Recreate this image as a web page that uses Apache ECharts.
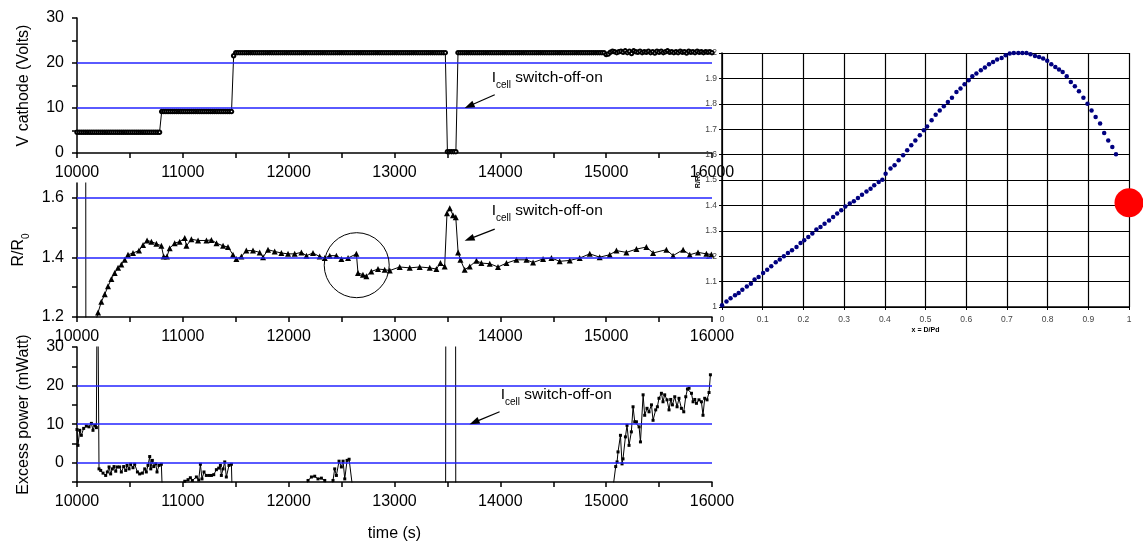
<!DOCTYPE html>
<html>
<head>
<meta charset="utf-8">
<script src="https://cdn.jsdelivr.net/npm/echarts@6/dist/echarts.min.js"></script>
<style>
  html, body { margin: 0; padding: 0; background: #fff; }
  #chart { width: 1143px; height: 549px; }
</style>
</head>
<body>
<div id="chart"></div>
<script>
// ---- data ----
const timeTicks = [10000, 10500, 11000, 11500, 12000, 12500, 13000, 13500, 14000, 14500, 15000, 15500, 16000];
const timeLabels = [10000, 11000, 12000, 13000, 14000, 15000, 16000];

// V cathode, logged every 20 s from 10000 s
const vStart = 10000;
const vStep = 20;
const vCathode = [
  4.6,4.6,4.6,4.6,4.6,4.6,4.6,4.6,4.6,4.6,4.6,4.6,4.6,4.6,4.6,4.6,4.6,4.6,4.6,4.6,
  4.6,4.6,4.6,4.6,4.6,4.6,4.6,4.6,4.6,4.6,4.6,4.6,4.6,4.6,4.6,4.6,4.6,4.6,4.6,4.6,
  9.2,9.2,9.2,9.2,9.2,9.2,9.2,9.2,9.2,9.2,9.2,9.2,9.2,9.2,9.2,9.2,9.2,9.2,9.2,9.2,
  9.2,9.2,9.2,9.2,9.2,9.2,9.2,9.2,9.2,9.2,9.2,9.2,9.2,9.2,21.6,22.3,22.3,22.3,22.3,22.3,
  22.3,22.3,22.3,22.3,22.3,22.3,22.3,22.3,22.3,22.3,22.3,22.3,22.3,22.3,22.3,22.3,22.3,22.3,22.3,22.3,
  22.3,22.3,22.3,22.3,22.3,22.3,22.3,22.3,22.3,22.3,22.3,22.3,22.3,22.3,22.3,22.3,22.3,22.3,22.3,22.3,
  22.3,22.3,22.3,22.3,22.3,22.3,22.3,22.3,22.3,22.3,22.3,22.3,22.3,22.3,22.3,22.3,22.3,22.3,22.3,22.3,
  22.3,22.3,22.3,22.3,22.3,22.3,22.3,22.3,22.3,22.3,22.3,22.3,22.3,22.3,22.3,22.3,22.3,22.3,22.3,22.3,
  22.3,22.3,22.3,22.3,22.3,22.3,22.3,22.3,22.3,22.3,22.3,22.3,22.3,22.3,22.3,0.3,0.3,0.3,0.3,0.3,
  22.3,22.3,22.3,22.3,22.3,22.3,22.3,22.3,22.3,22.3,22.3,22.3,22.3,22.3,22.3,22.3,22.3,22.3,22.3,22.3,
  22.3,22.3,22.3,22.3,22.3,22.3,22.3,22.3,22.3,22.3,22.3,22.3,22.3,22.3,22.3,22.3,22.3,22.3,22.3,22.3,
  22.3,22.3,22.3,22.3,22.3,22.3,22.3,22.3,22.3,22.3,22.3,22.3,22.3,22.3,22.3,22.3,22.3,22.3,22.3,22.3,
  22.3,22.3,22.3,22.3,22.3,22.3,22.3,22.3,22.3,22.3,
  21.9,22.0,22.4,22.6,22.5,22.3,22.5,22.6,22.4,22.7,
  22.3,22.6,22.1,22.7,22.5,22.4,22.6,22.3,22.5,22.4,
  22.6,22.3,22.5,22.2,22.6,22.4,22.6,22.3,22.5,22.7,
  22.4,22.5,22.3,22.5,22.3,22.6,22.4,22.5,22.2,22.6,
  22.4,22.5,22.3,22.6,22.4,22.5,22.3,22.5,22.4,22.5,
  22.3
];
const vTicks = [0, 5, 10, 15, 20, 25, 30];
const vLabels = [0, 10, 20, 30];
const vGuides = [10, 20];

// R/R0
const rTime = [
  10082, 10084, 10199, 10230, 10262, 10293, 10325, 10356, 10388, 10419, 10451, 10482, 10529, 10586, 10624,
  10662, 10703, 10750, 10797, 10819, 10850, 10876, 10923, 10970, 11018, 11034, 11081, 11144, 11223, 11270,
  11318, 11380, 11427, 11474, 11506, 11553, 11600, 11663, 11726, 11758, 11805, 11868, 11931, 11994, 12057,
  12120, 12168, 12230, 12293, 12341, 12388, 12451, 12498, 12561, 12640, 12655, 12702, 12734, 12781, 12844,
  12907, 12955, 13049, 13144, 13238, 13333, 13396, 13434, 13474, 13496, 13522, 13553, 13579, 13601, 13623,
  13663, 13711, 13774, 13821, 13900, 13978, 14058, 14152, 14247, 14309, 14404, 14483, 14561, 14656, 14750,
  14845, 14939, 15034, 15097, 15191, 15286, 15380, 15443, 15569, 15632, 15727, 15790, 15868, 15947, 15994
];
const rValue = [
  2.0, 1.05, 1.215, 1.251, 1.276, 1.303, 1.328, 1.348, 1.365, 1.376, 1.392, 1.409, 1.415, 1.423, 1.442,
  1.457, 1.453, 1.446, 1.439, 1.403, 1.403, 1.431, 1.448, 1.453, 1.465, 1.439, 1.461, 1.457, 1.457, 1.459,
  1.448, 1.439, 1.435, 1.409, 1.395, 1.403, 1.423, 1.423, 1.417, 1.401, 1.426, 1.420, 1.415, 1.412, 1.412,
  1.417, 1.406, 1.415, 1.403, 1.398, 1.406, 1.406, 1.395, 1.398, 1.412, 1.348, 1.342, 1.337, 1.353, 1.361,
  1.359, 1.356, 1.368, 1.365, 1.368, 1.365, 1.361, 1.381, 1.370, 1.548, 1.565, 1.542, 1.535, 1.417, 1.392,
  1.359, 1.370, 1.389, 1.381, 1.379, 1.368, 1.381, 1.392, 1.392, 1.383, 1.395, 1.398, 1.387, 1.390, 1.398,
  1.412, 1.401, 1.409, 1.423, 1.417, 1.428, 1.435, 1.415, 1.426, 1.406, 1.426, 1.409, 1.417, 1.412, 1.410
];
const rTicks = [1.2, 1.3, 1.4, 1.5, 1.6];
const rLabels = [1.2, 1.4, 1.6];
const rGuides = [1.4, 1.6];

// Excess power
const pTime = [
  10000, 10009, 10026, 10041, 10063, 10088, 10113, 10136, 10151, 10167, 10183, 10193,
  10208, 10224, 10246, 10271, 10287, 10303, 10318, 10334, 10350, 10366, 10381, 10403, 10419, 10441,
  10460, 10473, 10492, 10507, 10529, 10545, 10571, 10592, 10618, 10640, 10655, 10671, 10687, 10697,
  10712, 10725, 10744, 10756, 10775, 10797, 10812, 10900, 10990,
  11018, 11049, 11071, 11090, 11128, 11150, 11166, 11181, 11200, 11222, 11247, 11270, 11292, 11317,
  11339, 11355, 11364, 11380, 11396, 11411, 11436, 11459, 11470, 11800, 12160,
  12183, 12215, 12246, 12277, 12309, 12341, 12360, 12400,
  12419, 12435, 12451, 12476, 12498, 12514, 12530, 12552, 12571, 12602, 12700, 13100,
  13482, 13486, 13576, 13580, 14000, 14600, 15050,
  15071, 15090, 15103, 15112, 15135, 15150, 15159, 15182, 15197, 15216, 15238, 15254, 15270, 15286,
  15311, 15324, 15349, 15364, 15386, 15405, 15428, 15443, 15468, 15484, 15499, 15522, 15537, 15553,
  15575, 15594, 15610, 15626, 15648, 15670, 15688, 15711, 15733, 15752, 15768, 15783, 15806, 15821,
  15837, 15853, 15877, 15900, 15915, 15931, 15953, 15972, 15985
];
const pValue = [
  8.6, 4.5, 8.4, 7.1, 8.9, 9.5, 9.3, 10.2, 8.4, 9.7, 9.1, 60,
  -1.6, -2.0, -2.7, -3.3, -2.4, -1.1, -2.9, -1.6, -1.0, -2.2, -1.1, -1.1, -2.4, -1.0,
  -2.0, -0.7, -1.6, -0.4, -1.3, -0.4, -2.4, -2.9, -2.7, -1.6, -2.4, -0.7, 1.6, -1.6,
  0.6, -1.0, -0.3, -2.4, -0.7, -0.4, -12, -14, -8,
  -4.8, -4.4, -3.9, -4.6, -3.7, -4.5, -0.4, -4.2, -2.4, -3.3, -3.3, -3.3, -3.1, -1.8,
  -1.4, -0.7, -3.3, -1.6, 0.2, -3.7, -0.7, -0.4, -12, -15, -8,
  -4.6, -3.7, -3.5, -4.2, -4.0, -4.6, -8, -9,
  -4.6, -1.6, -3.3, 0.4, -1.1, 0.4, -4.2, 0.6, 0.9, -6, -12, -15,
  -40, 80, 80, -40, -20, -15, -8,
  -5.1, -1.0, 0.2, 2.8, 7.1, -0.3, 1.0, 6.7, 9.7, 4.5, 8.0, 14.5, 10.6, 10.6,
  9.3, 5.4, 17.6, 12.3, 14.1, 13.2, 15.0, 11.0, 13.7, 14.5, 16.7, 18.0, 15.8, 17.6,
  16.3, 13.7, 16.4, 15.0, 17.1, 14.5, 16.7, 14.1, 13.2, 17.1, 19.1, 19.3, 18.0, 15.8,
  16.4, 15.4, 16.3, 15.8, 12.3, 16.7, 16.3, 18.2, 22.8
];
const pTicks = [-5, 0, 5, 10, 15, 20, 25, 30];
const pLabels = [0, 10, 20, 30];
const pGuides = [0, 10, 20];

// right-hand chart: R/R0 against x = D/Pd
const dRatio = [
  0, 0.011, 0.021, 0.032, 0.041, 0.050, 0.061, 0.071, 0.080, 0.090,
  0.101, 0.111, 0.121, 0.132, 0.142, 0.152, 0.162, 0.172, 0.183, 0.193,
  0.202, 0.212, 0.222, 0.232, 0.242, 0.252, 0.263, 0.273, 0.283, 0.293,
  0.303, 0.314, 0.324, 0.334, 0.344, 0.355, 0.365, 0.374, 0.385, 0.394,
  0.402, 0.414, 0.424, 0.434, 0.445, 0.455, 0.465, 0.475, 0.486, 0.496,
  0.504, 0.515, 0.525, 0.535, 0.545, 0.555, 0.565, 0.576, 0.586, 0.596,
  0.606, 0.615, 0.625, 0.636, 0.646, 0.656, 0.666, 0.676, 0.687, 0.697,
  0.707, 0.717, 0.728, 0.738, 0.748, 0.758, 0.769, 0.779, 0.789, 0.799,
  0.809, 0.819, 0.828, 0.837, 0.847, 0.857, 0.867, 0.877, 0.888, 0.898,
  0.908, 0.918, 0.929, 0.939, 0.949, 0.959, 0.968
];
const rRatio = [
  1.007, 1.022, 1.034, 1.046, 1.055, 1.068, 1.081, 1.092, 1.108, 1.118,
  1.134, 1.147, 1.160, 1.176, 1.187, 1.200, 1.213, 1.223, 1.236, 1.252,
  1.263, 1.276, 1.289, 1.305, 1.315, 1.328, 1.341, 1.354, 1.368, 1.381,
  1.396, 1.407, 1.416, 1.429, 1.442, 1.455, 1.466, 1.479, 1.492, 1.501,
  1.525, 1.545, 1.558, 1.578, 1.597, 1.617, 1.637, 1.656, 1.676, 1.696,
  1.711, 1.735, 1.757, 1.774, 1.790, 1.807, 1.824, 1.846, 1.860, 1.877,
  1.893, 1.908, 1.919, 1.932, 1.943, 1.956, 1.965, 1.974, 1.980, 1.991,
  1.998, 2.0, 2.0, 2.0, 2.0, 1.995, 1.988, 1.984, 1.978, 1.969,
  1.956, 1.945, 1.935, 1.925, 1.908, 1.886, 1.869, 1.849, 1.824, 1.800,
  1.774, 1.748, 1.722, 1.685, 1.656, 1.630, 1.601
];
const markerX = [1.0];
const markerY = [1.41];

// annotations, in data coordinates of each panel
const notes = [
  { grid: 0, text: [13918, 16.2], tail: [13947, 12.95], tip: [13663, 10.0] },
  { grid: 1, text: [13918, 1.549], tail: [13947, 1.495], tip: [13663, 1.456] },
  { grid: 2, text: [14004, 17.0], tail: [13993, 13.2], tip: [13710, 10.0] }
];
const ring = { grid: 1, center: [12643, 1.374], radius: 32.5 };

// ---- chart ----
const FONT = '"Liberation Sans", Arial, sans-serif';
const BLUE = '#2323ff';

const chart = echarts.init(document.getElementById('chart'));

const timeAxis = (gi, extra) => Object.assign({
  type: 'value', gridIndex: gi, min: 10000, max: 16000,
  axisLine: { show: true, onZero: false, lineStyle: { color: '#000', width: 1.5 } },
  axisTick: { show: true, customValues: timeTicks, length: 5, lineStyle: { color: '#000', width: 1.5 } },
  axisLabel: { customValues: timeLabels, color: '#000', fontSize: 16, fontFamily: FONT, margin: 12,
               formatter: v => String(v) },
  splitLine: { show: false }
}, extra || {});

const leftAxis = (gi, min, max, ticks, labels, name, extra) => Object.assign({
  type: 'value', gridIndex: gi, min: min, max: max,
  name: name, nameLocation: 'middle', nameGap: 45,
  nameTextStyle: { color: '#000', fontSize: 16, fontFamily: FONT },
  axisLine: { show: true, onZero: false, lineStyle: { color: '#000', width: 1.5 } },
  axisTick: { show: true, customValues: ticks, length: 5, lineStyle: { color: '#000', width: 1.5 } },
  axisLabel: { customValues: labels, color: '#000', fontSize: 16, fontFamily: FONT, margin: 13,
               formatter: v => String(v) },
  splitLine: { show: false }
}, extra || {});

const guideLines = (vals) => ({
  silent: true, symbol: 'none', animation: false,
  label: { show: false },
  lineStyle: { color: BLUE, width: 1.5, type: 'solid' },
  data: vals.map(v => ({ yAxis: v }))
});

const option = {
  animation: false,
  backgroundColor: '#fff',
  grid: [
    { left: 77, top: 18, width: 635, height: 135 },
    { left: 77, top: 183, width: 635, height: 134 },
    { left: 77, top: 347, width: 635, height: 135 },
    { left: 722, top: 53, width: 407, height: 254 }
  ],
  xAxis: [
    timeAxis(0),
    timeAxis(1),
    timeAxis(2, {
      name: 'time (s)', nameLocation: 'middle', nameGap: 44,
      nameTextStyle: { color: '#000', fontSize: 16, fontFamily: FONT }
    }),
    {
      type: 'value', gridIndex: 3, min: 0, max: 1, interval: 0.1,
      name: 'x = D/Pd', nameLocation: 'middle', nameGap: 20,
      nameTextStyle: { color: '#000', fontSize: 7, fontWeight: 'bold', fontFamily: FONT },
      axisLine: { show: true, onZero: false, lineStyle: { color: '#000', width: 1.5 } },
      axisTick: { show: true, length: 3, lineStyle: { color: '#000' } },
      axisLabel: { color: '#444', fontSize: 8.5, fontFamily: FONT, margin: 8, formatter: v => String(+v.toFixed(1)) },
      splitLine: { show: true, lineStyle: { color: '#000', width: 1.2 } }
    }
  ],
  yAxis: [
    leftAxis(0, 0, 30, vTicks, vLabels, 'V cathode (Volts)'),
    leftAxis(1, 1.2, 1.65, rTicks, rLabels, '{a|R/R}{b|0}', {
      nameTextStyle: {
        color: '#000', fontFamily: FONT,
        rich: {
          a: { fontSize: 16, fontFamily: FONT, verticalAlign: 'top', lineHeight: 20 },
          b: { fontSize: 10, fontFamily: FONT, verticalAlign: 'bottom', lineHeight: 20 }
        }
      },
      axisLabel: { customValues: rLabels, color: '#000', fontSize: 16, fontFamily: FONT, margin: 13,
                   formatter: v => v.toFixed(1) }
    }),
    leftAxis(2, -5, 30, pTicks, pLabels, 'Excess power (mWatt)'),
    {
      type: 'value', gridIndex: 3, min: 1, max: 2, interval: 0.1,
      name: 'R/Ro', nameLocation: 'middle', nameGap: 13,
      nameTextStyle: { color: '#000', fontSize: 7, fontWeight: 'bold', fontFamily: FONT },
      axisLine: { show: true, onZero: false, lineStyle: { color: '#000', width: 1.5 } },
      axisTick: { show: true, length: 3, lineStyle: { color: '#000' } },
      axisLabel: { color: '#444', fontSize: 8.5, fontFamily: FONT, margin: 5, formatter: v => String(+v.toFixed(1)) },
      splitLine: { show: true, lineStyle: { color: '#000', width: 1.2 } }
    }
  ],
  series: [
    {
      name: 'V cathode', type: 'line', xAxisIndex: 0, yAxisIndex: 0,
      data: vCathode.map((v, i) => [vStart + i * vStep, v]),
      symbol: 'emptyCircle', symbolSize: 3.5, showSymbol: true,
      lineStyle: { color: '#000', width: 1 },
      itemStyle: { color: '#000', borderWidth: 0.8 },
      markLine: guideLines(vGuides), z: 3
    },
    {
      name: 'R/R0', type: 'line', xAxisIndex: 1, yAxisIndex: 1,
      data: rTime.map((t, i) => [t, rValue[i]]),
      symbol: 'triangle', symbolSize: 6, showSymbol: true,
      lineStyle: { color: '#000', width: 1 },
      itemStyle: { color: '#000' },
      markLine: guideLines(rGuides), z: 3
    },
    {
      name: 'Excess power', type: 'line', xAxisIndex: 2, yAxisIndex: 2,
      data: pTime.map((t, i) => [t, pValue[i]]),
      symbol: 'rect', symbolSize: 3, showSymbol: true,
      lineStyle: { color: '#000', width: 1 },
      itemStyle: { color: '#000' },
      markLine: guideLines(pGuides), z: 3
    },
    {
      name: 'R/R0 vs D/Pd', type: 'scatter', xAxisIndex: 3, yAxisIndex: 3,
      data: dRatio.map((x, i) => [x, rRatio[i]]),
      symbol: 'circle', symbolSize: 4.5,
      itemStyle: { color: '#000080', opacity: 1 }, z: 4
    },
    {
      name: 'marker', type: 'scatter', xAxisIndex: 3, yAxisIndex: 3,
      data: markerX.map((x, i) => [x, markerY[i]]),
      symbol: 'circle', symbolSize: 29, clip: false,
      itemStyle: { color: '#ff0000', opacity: 1 }, z: 5
    }
  ]
};

chart.setOption(option);

// annotations placed through the panels' own scales
function buildAnnotations() {
  const els = [];
  notes.forEach(n => {
    const tp = chart.convertToPixel({ gridIndex: n.grid }, n.text);
    const a = chart.convertToPixel({ gridIndex: n.grid }, n.tail);
    const b = chart.convertToPixel({ gridIndex: n.grid }, n.tip);
    const dx = b[0] - a[0], dy = b[1] - a[1];
    const len = Math.sqrt(dx * dx + dy * dy);
    const ux = dx / len, uy = dy / len;
    const hl = 10, hw = 3.5;
    const bx = b[0] - ux * hl, by = b[1] - uy * hl;
    els.push({
      type: 'line', silent: true, z: 10,
      shape: { x1: a[0], y1: a[1], x2: bx + ux * 2, y2: by + uy * 2 },
      style: { stroke: '#000', lineWidth: 1.2 }
    });
    els.push({
      type: 'polygon', silent: true, z: 10,
      shape: { points: [[b[0], b[1]], [bx - uy * hw, by + ux * hw], [bx + uy * hw, by - ux * hw]] },
      style: { fill: '#000' }
    });
    els.push({
      type: 'text', silent: true, z: 10, x: tp[0], y: tp[1],
      style: {
        text: '{i|I}{s|cell}{t| switch-off-on}',
        verticalAlign: 'middle', align: 'left', fill: '#000',
        rich: {
          i: { fontSize: 15.5, fontFamily: FONT, verticalAlign: 'top', lineHeight: 20 },
          s: { fontSize: 10, fontFamily: FONT, verticalAlign: 'bottom', lineHeight: 20 },
          t: { fontSize: 15.5, fontFamily: FONT, verticalAlign: 'top', lineHeight: 20 }
        }
      }
    });
  });
  const c = chart.convertToPixel({ gridIndex: ring.grid }, ring.center);
  els.push({
    type: 'circle', silent: true, z: 10,
    shape: { cx: c[0], cy: c[1], r: ring.radius },
    style: { fill: 'none', stroke: '#000', lineWidth: 1 }
  });
  chart.setOption({ graphic: els });
}
buildAnnotations();

window.addEventListener('resize', () => {
  chart.resize();
  buildAnnotations();
});
</script>
</body>
</html>
